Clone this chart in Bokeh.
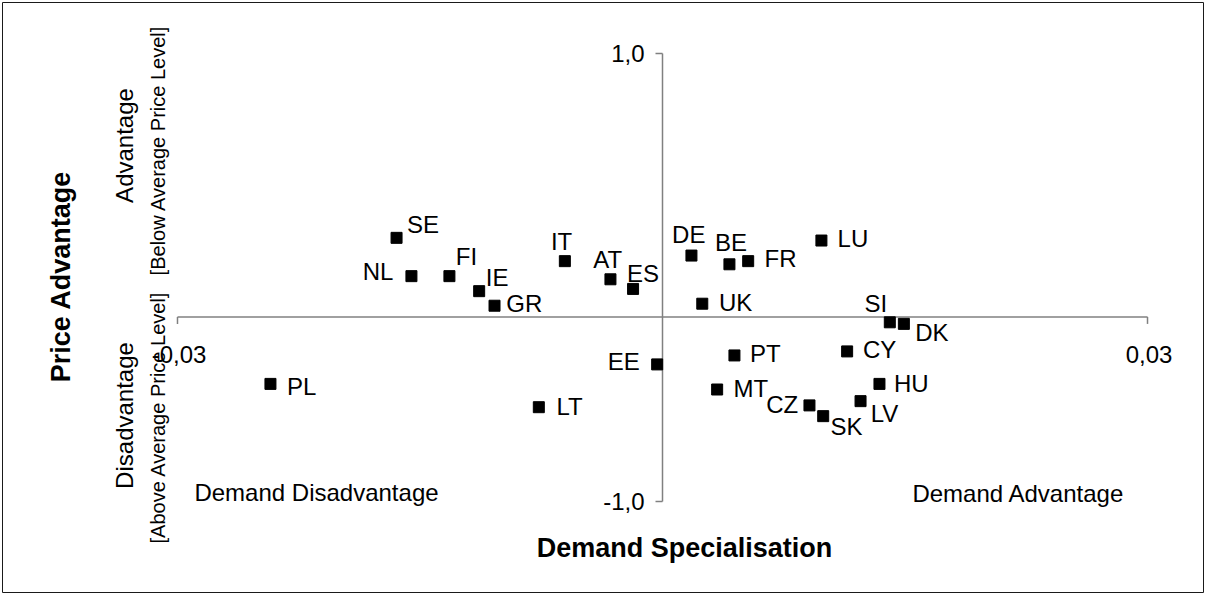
import math
from bokeh.plotting import figure
from bokeh.models import ColumnDataSource, Range1d
from bokeh.core.properties import value
from bokeh.embed import file_html
from bokeh.resources import INLINE

# ---------------- data ----------------
countries = ["SE", "NL", "FI", "IE", "GR", "IT", "AT", "ES", "DE", "BE", "FR", "LU", "UK",
             "SI", "DK", "PT", "CY", "HU", "MT", "CZ", "SK", "LV", "EE", "LT", "PL"]
demand_specialisation = [-0.01645, -0.01553, -0.01318, -0.01134, -0.01039, -0.00604, -0.00322,
                         -0.00182, 0.00179, 0.00414, 0.00530, 0.00983, 0.00246, 0.01406, 0.01493,
                         0.00445, 0.01142, 0.01342, 0.00338, 0.00909, 0.00994, 0.01225, -0.00033,
                         -0.00765, -0.02425]
price_advantage = [0.177, 0.006, 0.006, -0.061, -0.126, 0.073, -0.008, -0.051, 0.098, 0.059,
                   0.073, 0.165, -0.117, -0.200, -0.207, -0.348, -0.330, -0.475, -0.500, -0.571,
                   -0.619, -0.552, -0.388, -0.579, -0.475]

x_tick_values = [-0.03, 0.03]
x_tick_labels = ["-0,03", "0,03"]
y_tick_values = [1.0, -1.0]
y_tick_labels = ["1,0", "-1,0"]
x_axis_crosses_at = -0.176
y_axis_crosses_at = 0.0

# ---------------- layout / style ----------------
W, H = 1204, 593
FRAME_LEFT, FRAME_TOP = 2, 2          # page px of the chart border
X_ZERO_PX, X_SCALE = 662.0, 16167.0   # page px of x=0, px per unit
Y_ZERO_PX, Y_SCALE = 277.0, 224.0


def data_x(px):
    return (px - X_ZERO_PX) / X_SCALE


def data_y(py):
    return (Y_ZERO_PX - py) / Y_SCALE


# label centre offsets from the marker, in px (dx right, dy down)
label_offsets = {
    "SE": (26.5, -14.3), "NL": (-33.3, -5.7), "FI": (17, -20.7), "IE": (18, -14.7),
    "GR": (29.7, -3.6), "IT": (-3.3, -20.7), "AT": (-2.7, -20.7), "ES": (10, -16.8),
    "DE": (-2.7, -21.7), "BE": (1.5, -23), "FR": (32.3, -3.4), "LU": (31.5, -2.7),
    "UK": (33.3, -2.6), "SI": (-14, -20), "DK": (28, 7.7), "PT": (31, -2.7),
    "CY": (32.5, -2.7), "HU": (31.8, -1.8), "MT": (33.6, -2.3), "CZ": (-27.3, -1.7),
    "SK": (23.3, 9.3), "LV": (24, 11), "EE": (-33.4, -4), "LT": (30.7, -1.7),
    "PL": (31.3, 1.5),
}

FONT = value("Liberation Sans")
AXIS_COLOR = "#808080"

p = figure(width=W, height=H, output_backend="svg", toolbar_location=None, tools="",
           x_range=Range1d(data_x(FRAME_LEFT), data_x(W)),
           y_range=Range1d(data_y(H), data_y(FRAME_TOP)),
           x_axis_type=None, y_axis_type=None,
           min_border_left=FRAME_LEFT, min_border_top=FRAME_TOP,
           min_border_right=0, min_border_bottom=0)
p.outline_line_color = "#1a1a1a"
p.outline_line_width = 1
p.background_fill_color = "white"
p.border_fill_color = "white"

# axes lines
p.segment(x0=[min(x_tick_values)], x1=[max(x_tick_values)],
          y0=[x_axis_crosses_at], y1=[x_axis_crosses_at],
          line_color=AXIS_COLOR, line_width=1.5)
p.segment(x0=[y_axis_crosses_at], x1=[y_axis_crosses_at],
          y0=[min(y_tick_values)], y1=[max(y_tick_values)],
          line_color=AXIS_COLOR, line_width=1.5)
# tick marks (7 px, outward)
p.segment(x0=x_tick_values, x1=x_tick_values,
          y0=[x_axis_crosses_at] * len(x_tick_values),
          y1=[x_axis_crosses_at - 7 / Y_SCALE] * len(x_tick_values),
          line_color=AXIS_COLOR, line_width=1.5)
p.segment(x0=[y_axis_crosses_at] * len(y_tick_values),
          x1=[y_axis_crosses_at - 7 / X_SCALE] * len(y_tick_values),
          y0=y_tick_values, y1=y_tick_values,
          line_color=AXIS_COLOR, line_width=1.5)

# tick labels
p.text(x=[v + 1.5 / X_SCALE for v in x_tick_values],
       y=[x_axis_crosses_at - 38 / Y_SCALE] * len(x_tick_values),
       text=x_tick_labels, text_font=FONT, text_font_size="24px", text_color="black",
       text_align="center", text_baseline="middle")
p.text(x=[y_axis_crosses_at - 18 / X_SCALE] * len(y_tick_values),
       y=y_tick_values,
       text=y_tick_labels, text_font=FONT, text_font_size="24px", text_color="black",
       text_align="right", text_baseline="middle")

# points
src = ColumnDataSource(dict(x=demand_specialisation, y=price_advantage, name=countries))
p.scatter("x", "y", source=src, marker="square", size=11, fill_color="black",
          line_color="black")

lx = [x + label_offsets[c][0] / X_SCALE for x, c in zip(demand_specialisation, countries)]
ly = [y - (label_offsets[c][1] + 1.0) / Y_SCALE for y, c in zip(price_advantage, countries)]
p.text(x=lx, y=ly, text=countries, text_font=FONT, text_font_size="24px", text_color="black",
       text_align="center", text_baseline="middle")

# quadrant / axis titles
p.text(x=[data_x(316)], y=[data_y(492)], text=["Demand Disadvantage"], text_font=FONT,
       text_font_size="24px", text_align="center", text_baseline="middle")
p.text(x=[data_x(1018)], y=[data_y(493)], text=["Demand Advantage"], text_font=FONT,
       text_font_size="24px", text_align="center", text_baseline="middle")
p.text(x=[data_x(684)], y=[data_y(547)], text=["Demand Specialisation"], text_font=FONT,
       text_font_size="27px", text_font_style="bold", text_align="center",
       text_baseline="middle")
p.text(x=[data_x(60)], y=[data_y(276)], text=["Price Advantage"], text_font=FONT,
       text_font_size="27px", text_font_style="bold", text_align="center",
       text_baseline="middle", angle=math.pi / 2)
p.text(x=[data_x(124), data_x(124)], y=[data_y(145), data_y(415)],
       text=["Advantage", "Disadvantage"], text_font=FONT, text_font_size="24px",
       text_align="center", text_baseline="middle", angle=math.pi / 2)
p.text(x=[data_x(157), data_x(157)], y=[data_y(150), data_y(417)],
       text=["[Below Average Price Level]", "[Above Average Price Level]"], text_font=FONT,
       text_font_size="20px", text_align="center", text_baseline="middle",
       angle=math.pi / 2)

open("out.html", "w").write(file_html(p, INLINE))
